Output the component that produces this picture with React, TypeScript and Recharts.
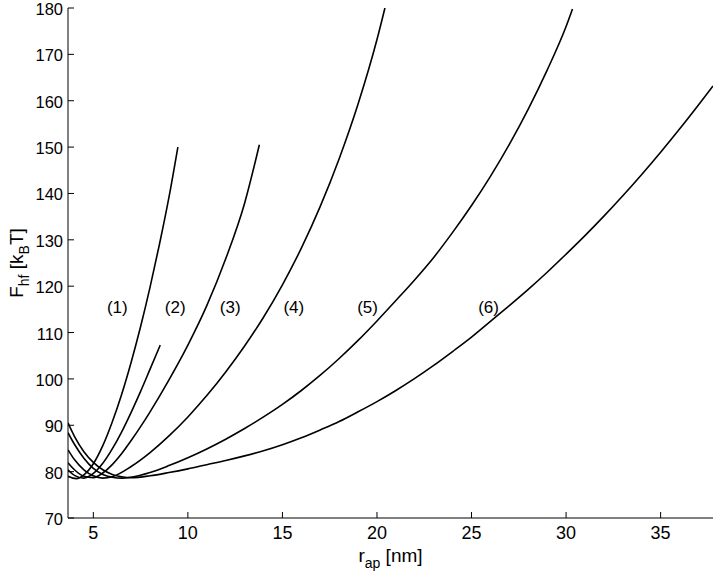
import { LineChart, Line, XAxis, YAxis, ReferenceDot } from 'recharts'

const FONT = '"Liberation Sans", Arial, Helvetica, sans-serif'

// r_ap [nm] / F_hf [kBT] pairs, one pair of arrays per curve
const r1 = [3.66, 4.1, 4.5, 5.0, 5.5, 6.0, 6.5, 7.0, 7.5, 8.0, 8.5, 9.0, 9.47]
const f1 = [79.0, 78.5, 79.3, 81.7, 85.6, 90.7, 96.7, 103.6, 111.3, 119.8, 129.1, 139.2, 150.0]

const r2 = [3.66, 4.0, 4.5, 5.0, 5.5, 6.0, 6.5, 7.0, 7.5, 8.0, 8.54]
const f2 = [80.4, 79.2, 78.6, 79.6, 81.8, 84.9, 88.6, 92.8, 97.3, 102.1, 107.3]

const r3 = [3.66, 4.0, 4.5, 5.0, 5.5, 6.0, 6.5, 7.0, 7.5, 8.0, 9.0, 10.0, 11.0, 12.0, 13.0, 13.78]
const f3 = [81.9, 80.4, 79.0, 78.7, 79.7, 81.5, 83.9, 86.7, 89.7, 92.9, 99.8, 107.3, 115.8, 125.9, 137.9, 150.5]

const r4 = [3.66, 4.0, 4.5, 5.0, 5.5, 6.0, 7.0, 8.0, 9.0, 10.0, 11.0, 12.0, 13.0, 14.0, 15.0, 16.0, 17.0, 18.0, 19.0, 20.0, 20.42]
const f4 = [84.7, 82.6, 80.4, 79.1, 78.6, 78.9, 81.1, 84.1, 87.7, 91.8, 96.4, 101.5, 107.1, 113.3, 120.3, 128.2, 137.2, 147.5, 159.3, 173.2, 180.0]

const r5 = [3.66, 4.0, 4.5, 5.0, 5.5, 6.0, 6.5, 7.0, 8.0, 9.0, 10.0, 11.0, 12.0, 13.0, 14.0, 15.0, 16.0, 17.0, 18.0, 19.0, 20.0, 21.0, 22.0, 23.0, 24.0, 25.0, 26.0, 27.0, 28.0, 29.0, 30.0, 30.34]
const f5 = [88.4, 85.9, 82.9, 80.7, 79.4, 78.8, 78.6, 78.8, 79.8, 81.3, 83.0, 84.9, 87.0, 89.3, 91.8, 94.5, 97.5, 100.8, 104.4, 108.3, 112.5, 116.9, 121.4, 126.2, 131.6, 137.4, 143.7, 150.6, 158.2, 166.6, 176.0, 179.8]

const r6 = [3.66, 4.0, 4.5, 5.0, 5.5, 6.0, 6.5, 7.0, 8.0, 9.0, 10.0, 11.0, 12.0, 13.0, 14.0, 15.0, 16.0, 17.0, 18.0, 19.0, 20.0, 21.0, 22.0, 23.0, 24.0, 25.0, 26.0, 27.0, 28.0, 29.0, 30.0, 31.0, 32.0, 33.0, 34.0, 35.0, 36.0, 37.0, 37.77]
const f6 = [90.5, 87.6, 84.3, 82.0, 80.4, 79.4, 78.9, 78.7, 79.1, 79.8, 80.6, 81.5, 82.4, 83.4, 84.5, 85.8, 87.3, 89.0, 90.8, 92.9, 95.1, 97.5, 100.1, 102.9, 105.9, 109.0, 112.4, 115.8, 119.3, 123.0, 126.9, 130.9, 135.1, 139.5, 144.1, 148.9, 153.9, 159.1, 163.2]

const curveLabels = ['(1)', '(2)', '(3)', '(4)', '(5)', '(6)']
const labelR = [6.27, 9.33, 12.24, 15.6, 19.5, 25.9]
const labelF = 115.5

const xTicks = [5, 10, 15, 20, 25, 30, 35]
const yTicks = [70, 80, 90, 100, 110, 120, 130, 140, 150, 160, 170, 180]

const curves = [
  [r1, f1],
  [r2, f2],
  [r3, f3],
  [r4, f4],
  [r5, f5],
  [r6, f6],
].map(([r, f]) => r.map((x, i) => ({ r: x, f: f[i] })))

// MATLAB-style ticks pointing into the plot
function XTick({ x, y, payload }: any) {
  return (
    <g>
      <line x1={x} y1={y} x2={x} y2={y - 6} stroke="#000" />
      <text x={x} y={y + 21} textAnchor="middle" fontSize={18} fontFamily={FONT} fill="#000">
        {payload.value}
      </text>
    </g>
  )
}

function YTick({ x, y, payload }: any) {
  return (
    <g>
      <line x1={x} y1={y} x2={x + 6} y2={y} stroke="#000" />
      <text x={x - 5} y={y + 7} textAnchor="end" fontSize={16.5} fontFamily={FONT} fill="#000">
        {payload.value}
      </text>
    </g>
  )
}

function XLabel({ viewBox }: any) {
  const cx = viewBox.x + viewBox.width / 2
  return (
    <text x={cx} y={viewBox.y + 44} textAnchor="middle" fontSize={19} fontFamily={FONT} fill="#000">
      r
      <tspan fontSize={14} dy={6}>ap</tspan>
      <tspan dy={-6}> [nm]</tspan>
    </text>
  )
}

function YLabel({ viewBox }: any) {
  const cx = viewBox.x + 23
  const cy = viewBox.y + viewBox.height / 2
  return (
    <text
      x={cx}
      y={cy}
      transform={`rotate(-90 ${cx} ${cy})`}
      textAnchor="middle"
      fontSize={19}
      fontFamily={FONT}
      fill="#000"
    >
      F
      <tspan fontSize={14} dy={6}>hf</tspan>
      <tspan dy={-6}> [k</tspan>
      <tspan fontSize={14} dy={6}>B</tspan>
      <tspan dy={-6}>T]</tspan>
    </text>
  )
}

export default function App() {
  return (
    <div style={{ position: 'absolute', left: 0, top: 0, width: 720, height: 584, background: '#fff' }}>
      <LineChart width={720} height={584} margin={{ top: 8, right: 7, bottom: 0, left: 0 }}>
        <XAxis
          type="number"
          dataKey="r"
          domain={[3.66, 37.77]}
          ticks={xTicks}
          interval={0}
          allowDataOverflow
          height={66}
          tickSize={0}
          tickMargin={0}
          tickLine={false}
          tick={<XTick />}
          axisLine={{ stroke: '#000' }}
          label={<XLabel />}
        />
        <YAxis
          type="number"
          dataKey="f"
          domain={[70, 180]}
          ticks={yTicks}
          interval={0}
          allowDataOverflow
          width={68}
          tickSize={0}
          tickMargin={0}
          tickLine={false}
          tick={<YTick />}
          axisLine={{ stroke: '#000' }}
          label={<YLabel />}
        />
        {curves.map((d, i) => (
          <Line
            key={i}
            data={d}
            dataKey="f"
            type="monotone"
            stroke="#000"
            strokeWidth={1.6}
            dot={false}
            activeDot={false}
            isAnimationActive={false}
          />
        ))}
        {curveLabels.map((t, i) => (
          <ReferenceDot
            key={t}
            x={labelR[i]}
            y={labelF}
            r={0}
            fill="none"
            stroke="none"
            label={{ value: t, position: 'center', fontSize: 17, fontFamily: FONT, fill: '#000' }}
          />
        ))}
      </LineChart>
    </div>
  )
}
